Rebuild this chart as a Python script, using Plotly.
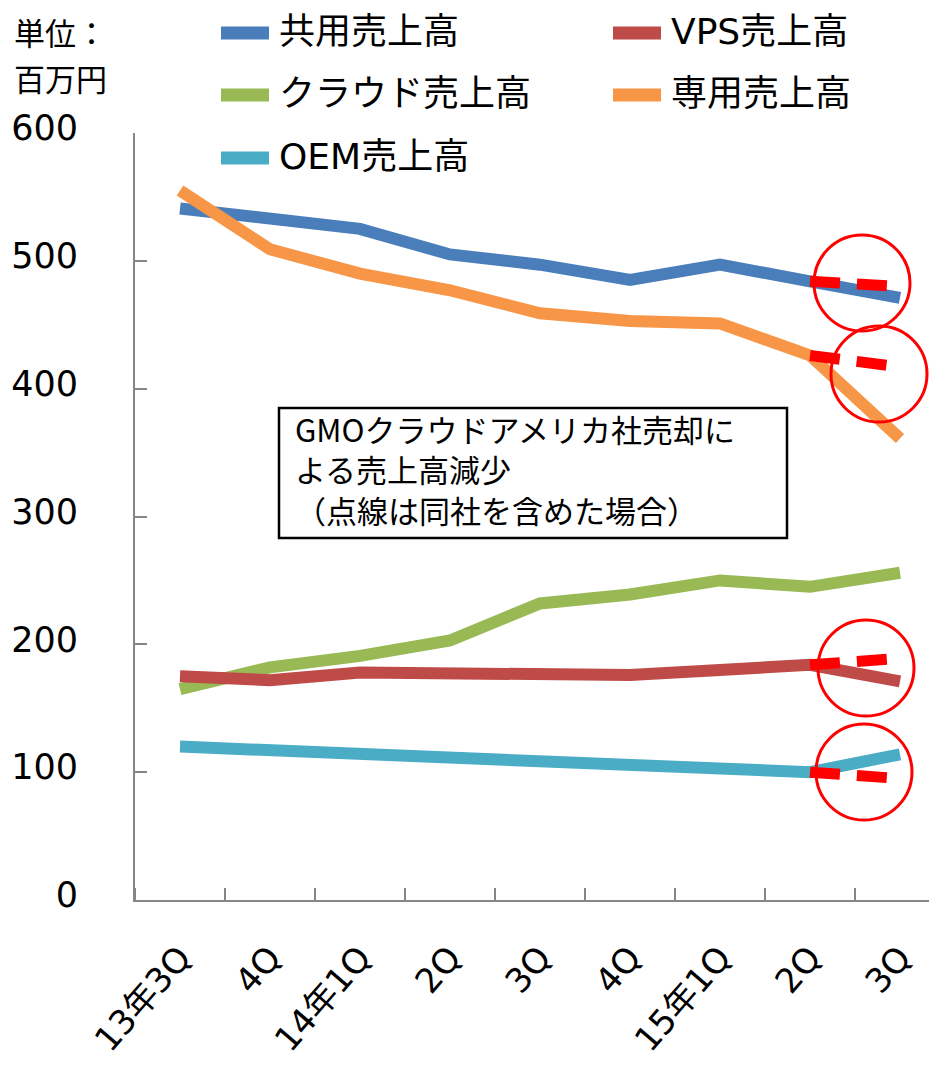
import plotly.graph_objects as go

# ---------------- data ----------------
quarters = ["13年3Q", "4Q", "14年1Q", "2Q", "3Q", "4Q", "15年1Q", "2Q", "3Q"]
shared_sales = [541, 532, 525, 505, 497, 485, 497, 484, 471]      # 共用売上高
vps_sales = [175, 172, 178, 178, 178, 176, 180, 184, 171]         # VPS売上高
cloud_sales = [165, 182, 191, 203, 232, 239, 250, 245, 256]       # クラウド売上高
dedicated_sales = [555, 509, 490, 477, 459, 453, 451, 426, 361]   # 専用売上高
oem_sales = [120, 117, 115, 110, 107, 105, 101, 100, 114]         # OEM売上高

# dotted lines: values including GMOクラウドアメリカ (last two quarters)
shared_incl = [484, 480]
dedicated_incl = [426, 417]
vps_incl = [184, 189]
oem_incl = [100, 95]

y_ticks = [0, 100, 200, 300, 400, 500, 600]

# ---------------- style ----------------
C_SHARED = "#4A7EBB"
C_VPS = "#BE4B48"
C_CLOUD = "#98B954"
C_DED = "#F79646"
C_OEM = "#4BACC6"
AXIS = "#868686"
FONT = "DejaVu Sans, Noto Sans CJK JP, sans-serif"
JFONT = "Noto Sans CJK JP, DejaVu Sans, sans-serif"

OFF = 8                      # page body margin
W, H = 937 - OFF, 1067 - OFF
L, R, T, B = 135, 937, 133, 900   # plot box in screen pixels


def px(x):
    return (x - L) / (R - L)


def py(y):
    return (B - y) / (B - T)


x_idx = list(range(len(quarters)))
x_last = x_idx[-2:]

fig = go.Figure()

series = [
    (shared_sales, C_SHARED),
    (dedicated_sales, C_DED),
    (cloud_sales, C_CLOUD),
    (vps_sales, C_VPS),
    (oem_sales, C_OEM),
]
for vals, col in series:
    fig.add_trace(go.Scatter(x=x_idx, y=vals, mode="lines",
                             line=dict(color=col, width=12),
                             hoverinfo="skip", showlegend=False))

for vals in [shared_incl, dedicated_incl, vps_incl, oem_incl]:
    fig.add_trace(go.Scatter(x=x_last, y=vals, mode="lines",
                             line=dict(color="#FF0000", width=11, dash="30px,17px"),
                             hoverinfo="skip", showlegend=False))

shapes = []
annotations = []

# red circles (screen-pixel centres)
for cx, cy in [(862, 283), (879, 374), (866, 668), (864, 772), (-43, 230)]:
    r = 48
    shapes.append(dict(type="circle", xref="paper", yref="paper",
                       x0=px(cx - r), x1=px(cx + r), y0=py(cy + r), y1=py(cy - r),
                       line=dict(color="#FF0000", width=3), layer="above"))

# stray axis fragment at left edge
shapes.append(dict(type="line", xref="paper", yref="paper",
                   x0=px(5), x1=px(5), y0=py(884), y1=py(897),
                   line=dict(color=AXIS, width=2)))
shapes.append(dict(type="line", xref="paper", yref="paper",
                   x0=px(0), x1=px(6), y0=py(897), y1=py(897),
                   line=dict(color=AXIS, width=2)))

# legend (manual)
legend_items = [
    ("共用売上高", C_SHARED, 215, 33),
    ("VPS売上高", C_VPS, 607, 33),
    ("クラウド売上高", C_CLOUD, 215, 95),
    ("専用売上高", C_DED, 607, 95),
    ("OEM売上高", C_OEM, 215, 158),
]
for text, col, lx, ly in legend_items:
    shapes.append(dict(type="line", xref="paper", yref="paper",
                       x0=px(lx + 6), x1=px(lx + 54), y0=py(ly), y1=py(ly),
                       line=dict(color=col, width=13)))
    annotations.append(dict(text=text, xref="paper", yref="paper",
                            x=px(lx + 62), y=py(ly - 2), xanchor="left", yanchor="middle",
                            showarrow=False, font=dict(family=FONT, size=36, color="black")))

# unit label
for text, uy in [("単位：", 32), ("百万円", 77)]:
    annotations.append(dict(text=text, xref="paper", yref="paper",
                            x=px(12), y=py(uy), xanchor="left", yanchor="middle",
                            showarrow=False, font=dict(family=JFONT, size=31, color="black")))

# text box
shapes.append(dict(type="rect", xref="paper", yref="paper",
                   x0=px(279), x1=px(787), y0=py(538), y1=py(408),
                   line=dict(color="black", width=2.5), fillcolor="white", layer="above"))
annotations.append(dict(text="GMOクラウドアメリカ社売却に<br>よる売上高減少<br>（点線は同社を含めた場合）",
                        xref="paper", yref="paper", x=px(293), y=py(469),
                        xanchor="left", yanchor="middle", align="left",
                        showarrow=False, font=dict(family=JFONT, size=31, color="black")))

fig.update_layout(
    width=W, height=H,
    margin=dict(l=L - OFF, r=W - (R - OFF), t=T - OFF, b=H - (B - OFF), pad=0),
    plot_bgcolor="white", paper_bgcolor="white",
    showlegend=False,
    shapes=shapes, annotations=annotations,
    xaxis=dict(range=[-0.5, (R - L) / 90 - 0.5], tickmode="array", tickvals=x_idx,
               ticktext=quarters, tickangle=-49, ticks="", showline=True,
               linecolor=AXIS, linewidth=2, showgrid=False, zeroline=False,
               tickfont=dict(family=FONT, size=34, color="black"),
               ticklabelstandoff=22,
               minor=dict(tick0=-0.5, dtick=1, ticks="inside", ticklen=12,
                          tickcolor=AXIS, tickwidth=1.5, showgrid=False)),
    yaxis=dict(range=[0, 600], tickmode="array", tickvals=y_ticks, ticks="inside",
               ticklen=12, tickcolor=AXIS, tickwidth=1.5, showline=True,
               linecolor=AXIS, linewidth=2, showgrid=False, zeroline=False,
               tickfont=dict(family=FONT, size=35, color="black"),
               ticklabelstandoff=48, ticklabelshift=-5),
)

fig.write_html("out.html")
